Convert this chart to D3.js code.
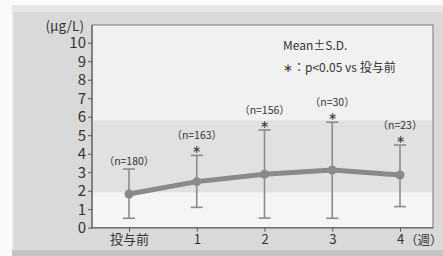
<!DOCTYPE html>
<html>
<head>
<meta charset="utf-8">
<script src="https://cdn.jsdelivr.net/npm/d3@7"></script>
<style>
  html, body { margin: 0; padding: 0; background: #fff; }
  #chart { width: 443px; height: 256px; }
  text { font-family: "Noto Sans CJK JP", "Noto Sans", sans-serif; fill: #333; }
</style>
</head>
<body>
<div id="chart"></div>
<script>
// データ
const categories = ["投与前", "1", "2", "3", "4"];
const means = [1.82, 2.49, 2.89, 3.12, 2.85];
const upper = [3.17, 3.91, 5.28, 5.70, 4.47];
const lower = [0.51, 1.10, 0.52, 0.51, 1.14];
const nLabels = ["（n=180）", "（n=163）", "（n=156）", "（n=30）", "（n=23）"];
const signif = [false, true, true, true, true];
const yTicks = [0, 1, 2, 3, 4, 5, 6, 7, 8, 9, 10];
const refBand = [1.9, 5.8]; // 基準範囲の帯

const W = 443, H = 256;
const svg = d3.select("#chart").append("svg").attr("width", W).attr("height", H);

// 背景パネル(ベベル)
svg.append("rect").attr("x", 0).attr("y", 0).attr("width", W).attr("height", H).attr("fill", "#fafafa");
svg.append("rect").attr("x", 12).attr("y", 5).attr("width", W - 12).attr("height", H - 5).attr("fill", "#e6e6e6");
svg.append("rect").attr("x", 14).attr("y", 12).attr("width", W - 14).attr("height", 238).attr("fill", "#d9d9d9");
svg.append("rect").attr("x", 12).attr("y", 250).attr("width", W - 12).attr("height", 6).attr("fill", "#c4c4c4");

const plot = { left: 92, top: 25, right: 433, bottom: 228 };
const x = d3.scalePoint().domain(categories).range([129, 400]);
const y = d3.scaleLinear().domain([0, 10]).range([227.7, 42.7]);

// プロット領域
svg.append("rect").attr("x", plot.left).attr("y", plot.top)
  .attr("width", plot.right - plot.left).attr("height", plot.bottom - plot.top)
  .attr("fill", "#f1f1f1").attr("stroke", "#8a8a8a").attr("stroke-width", 1.2);
svg.append("rect").attr("x", plot.left + 1).attr("y", y(refBand[1]))
  .attr("width", plot.right - plot.left - 2).attr("height", y(refBand[0]) - y(refBand[1]))
  .attr("fill", "#e1e1e1");
svg.append("rect").attr("x", plot.left + 1).attr("y", y(refBand[0]))
  .attr("width", plot.right - plot.left - 2).attr("height", y(0) - y(refBand[0]))
  .attr("fill", "#f5f5f5");

// 軸
const yAxis = svg.append("g").attr("transform", `translate(${plot.left},0)`)
  .call(d3.axisLeft(y).tickValues(yTicks).tickSize(4).tickPadding(2));
yAxis.select(".domain").attr("d", `M0,${plot.top}V${y(0)}`);
yAxis.selectAll("line, path").attr("stroke", "#555");
yAxis.selectAll("text").attr("font-size", 15).attr("fill", "#333");

const xAxis = svg.append("g").attr("transform", `translate(0,${y(0)})`)
  .call(d3.axisBottom(x).tickSize(4).tickPadding(3));
xAxis.select(".domain").attr("d", `M${plot.left},0H${plot.right}`);
xAxis.selectAll("line, path").attr("stroke", "#555");
xAxis.selectAll("text").attr("font-size", 13).attr("fill", "#333");

svg.append("text").attr("x", 84).attr("y", 31).attr("text-anchor", "end")
  .attr("font-size", 13.5).text("(μg/L)");
svg.append("text").attr("x", 405).attr("y", 245).attr("font-size", 12.5).text("（週）");

// 凡例
svg.append("text").attr("x", 283).attr("y", 50).attr("font-size", 12).text("Mean±S.D.");
svg.append("text").attr("x", 283).attr("y", 72).attr("font-size", 12).text("∗：p<0.05 vs 投与前");

// 誤差棒
const eb = svg.append("g").attr("stroke", "#8c8c8c").attr("stroke-width", 1.6);
categories.forEach((c, i) => {
  const cx = x(c);
  eb.append("line").attr("x1", cx).attr("x2", cx).attr("y1", y(upper[i])).attr("y2", y(lower[i]));
  eb.append("line").attr("x1", cx - 6).attr("x2", cx + 6).attr("y1", y(upper[i])).attr("y2", y(upper[i]));
  eb.append("line").attr("x1", cx - 6).attr("x2", cx + 6).attr("y1", y(lower[i])).attr("y2", y(lower[i]));
});

// 平均線
const line = d3.line().x((d, i) => x(categories[i])).y(d => y(d));
svg.append("path").datum(means).attr("d", line).attr("fill", "none")
  .attr("stroke", "#8a8a8a").attr("stroke-width", 5).attr("stroke-linejoin", "round");
svg.selectAll("circle.pt").data(means).enter().append("circle")
  .attr("cx", (d, i) => x(categories[i])).attr("cy", d => y(d)).attr("r", 4.5).attr("fill", "#8a8a8a");

// n数と有意差
categories.forEach((c, i) => {
  const top = y(upper[i]);
  if (signif[i]) {
    svg.append("text").attr("x", x(c)).attr("y", top - 2).attr("text-anchor", "middle")
      .attr("font-size", 11).text("∗");
  }
  svg.append("text").attr("x", x(c)).attr("y", top - (signif[i] ? 16 : 4)).attr("text-anchor", "middle")
    .attr("font-size", 10.5).text(nLabels[i]);
});
</script>
</body>
</html>
